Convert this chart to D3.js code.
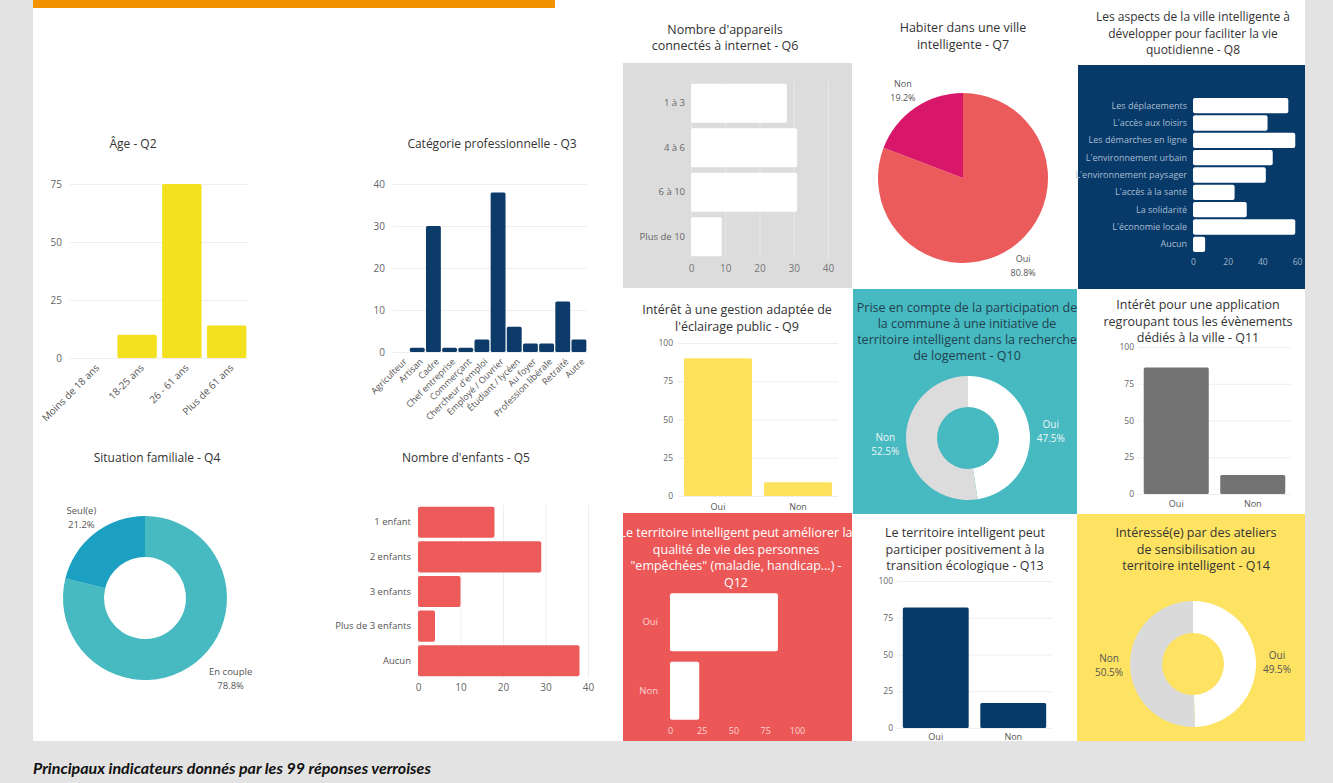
<!DOCTYPE html>
<html>
<head>
<meta charset="utf-8">
<script src="https://cdn.jsdelivr.net/npm/d3@7"></script>
<style>
body { margin: 0; background: #e3e3e3; }
svg text { font-family: "Open Sans", sans-serif; }
</style>
</head>
<body>
<svg id="chart" width="1333" height="783"></svg>
<script>
// ---- data ----
var q2Labels = ["Moins de 18 ans", "18-25 ans", "26 - 61 ans", "Plus de 61 ans"];
var q2Values = [0, 10, 75, 14];
var q2Ticks = [0, 25, 50, 75];

var q3Labels = ["Agriculteur", "Artisan", "Cadre", "Chef entreprise", "Commerçant", "Chercheur d'emploi",
    "Employé / Ouvrier", "Étudiant / lycéen", "Au foyer", "Profession libérale", "Retraité", "Autre"];
var q3Values = [0, 1, 30, 1, 1, 3, 38, 6, 2, 2, 12, 3];
var q3Ticks = [0, 10, 20, 30, 40];

var q4Labels = ["En couple", "Seul(e)"];
var q4Values = [78.8, 21.2];

var q5Labels = ["1 enfant", "2 enfants", "3 enfants", "Plus de 3 enfants", "Aucun"];
var q5Values = [18, 29, 10, 4, 38];
var q5Ticks = [0, 10, 20, 30, 40];

var q6Labels = ["1 à 3", "4 à 6", "6 à 10", "Plus de 10"];
var q6Values = [28, 31, 31, 9];
var q6Ticks = [0, 10, 20, 30, 40];

var q7Labels = ["Oui", "Non"];
var q7Values = [80.8, 19.2];

var q8Labels = ["Les déplacements", "L'accès aux loisirs", "Les démarches en ligne", "L'environnement urbain",
    "L'environnement paysager", "L'accès à la santé", "La solidarité", "L'économie locale", "Aucun"];
var q8Values = [55, 43, 59, 46, 42, 24, 31, 59, 7];
var q8Ticks = [0, 20, 40, 60];

var yesNo = ["Oui", "Non"];
var pctTicks = [0, 25, 50, 75, 100];
var q9Values = [90, 9];
var q10Values = [47.5, 52.5];
var q11Values = [86, 13];
var q12Values = [85, 23];
var q13Values = [82, 17];
var q14Values = [49.5, 50.5];

var svg = d3.select("#chart");

// ---- background & panels ----
svg.append("rect").attr("x", 33).attr("y", 0).attr("width", 1272).attr("height", 741).attr("fill", "#fff");
svg.append("rect").attr("x", 33).attr("y", 0).attr("width", 522).attr("height", 8).attr("fill", "#f39200");

[[623, 63, 229, 225, "#dcdcdc"], [1078, 65, 227, 224, "#073a68"], [853, 289, 224, 225, "#46b9c1"],
 [623, 513, 229, 228, "#ec5858"], [1077, 514, 228, 227, "#fee262"]].forEach(function (p) {
    svg.append("rect").attr("x", p[0]).attr("y", p[1]).attr("width", p[2]).attr("height", p[3]).attr("fill", p[4]);
});

// ---- helpers ----
function title(lines, cx, y, o) {
    o = o || {};
    var t = svg.append("text").attr("text-anchor", "middle")
        .attr("font-size", o.fs || 12.5).attr("fill", o.color || "#333");
    lines.forEach(function (l, i) {
        t.append("tspan").attr("x", cx).attr("y", y + i * (o.lh || 16.5)).text(l);
    });
}

function vbar(o) {
    var g = svg.append("g");
    var y = d3.scaleLinear().domain([0, o.max]).range([o.yZero, o.yTop]);
    var x = d3.scaleBand().domain(o.labels).range([o.x0, o.x1])
        .paddingInner(o.pad).paddingOuter(o.pad / 2);

    var ya = g.append("g").attr("transform", "translate(" + o.x0 + ",0)")
        .call(d3.axisLeft(y).tickValues(o.ticks).tickSize(-(o.x1 - o.x0)).tickPadding(o.tickPad || 6));
    ya.select(".domain").remove();
    ya.attr("font-size", o.tickFs || 10);
    ya.selectAll("line").attr("stroke", o.grid || "#eeeeee");
    ya.selectAll("text").attr("fill", o.tickColor || "#666");

    g.selectAll("rect.bar").data(o.values).enter().append("rect")
        .attr("class", "bar")
        .attr("x", function (d, i) { return x(o.labels[i]); })
        .attr("width", x.bandwidth())
        .attr("y", function (d) { return y(d); })
        .attr("height", function (d) { return o.yZero - y(d); })
        .attr("rx", 1.5)
        .attr("fill", o.color);

    var xa = g.append("g").attr("transform", "translate(0," + o.yZero + ")")
        .call(d3.axisBottom(x).tickSize(0).tickPadding(o.xPad || 7));
    xa.select(".domain").remove();
    xa.attr("font-size", o.xFs || 9);
    xa.selectAll("text").attr("fill", o.labelColor || "#555");
    if (o.rotate) {
        xa.selectAll("text").attr("y", 0).attr("dy", "0.35em").attr("text-anchor", "end")
            .attr("transform", "translate(" + o.rotate[0] + "," + o.rotate[1] + ") rotate(-45)");
    }
}

function hbar(o) {
    var g = svg.append("g");
    var x = d3.scaleLinear().domain([0, o.max]).range([o.xZero, o.xMax]);
    var y = d3.scaleBand().domain(o.labels).range([o.y0, o.y1])
        .paddingInner(o.pad).paddingOuter(o.pad / 2);

    var xa = g.append("g").attr("transform", "translate(0," + o.y1 + ")")
        .call(d3.axisBottom(x).tickValues(o.ticks).tickSize(-(o.y1 - o.y0)).tickPadding(o.tickPad || 6));
    xa.select(".domain").remove();
    xa.attr("font-size", o.tickFs || 10);
    xa.selectAll("line").attr("stroke", o.grid || "none");
    xa.selectAll("text").attr("fill", o.tickColor || "#666");

    g.selectAll("rect.bar").data(o.values).enter().append("rect")
        .attr("class", "bar")
        .attr("x", o.xZero)
        .attr("width", function (d) { return x(d) - o.xZero; })
        .attr("y", function (d, i) { return y(o.labels[i]); })
        .attr("height", y.bandwidth())
        .attr("rx", 2)
        .attr("fill", o.color);

    var ya = g.append("g").attr("transform", "translate(" + o.xZero + ",0)")
        .call(d3.axisLeft(y).tickSize(0).tickPadding(o.labelPad || 6));
    ya.select(".domain").remove();
    ya.attr("font-size", o.labelFs || 10);
    ya.selectAll("text").attr("fill", o.labelColor || "#555");
}

function pie(o) {
    var g = svg.append("g").attr("transform", "translate(" + o.cx + "," + o.cy + ")");
    var arcs = d3.pie().sort(null)(o.values);
    var arc = d3.arc().innerRadius(o.ri || 0).outerRadius(o.r);
    g.selectAll("path").data(arcs).enter().append("path")
        .attr("d", arc)
        .attr("fill", function (d, i) { return o.colors[i]; });
    arcs.forEach(function (a, i) {
        var m = (a.startAngle + a.endAngle) / 2, R = o.r + 21;
        var lx = Math.sin(m) * R + ((o.nudge && o.nudge[i]) || 0), ly = -Math.cos(m) * R;
        var t = g.append("text").attr("text-anchor", "middle")
            .attr("font-size", o.fs || 9.5).attr("fill", o.labelColor || "#555");
        t.append("tspan").attr("x", lx).attr("y", ly - 3.5).text(o.labels[i]);
        t.append("tspan").attr("x", lx).attr("y", ly + 10.5).text(d3.format(".1f")(o.values[i]) + "%");
    });
}

// ---- Q2 ----
title(["Âge - Q2"], 133, 148, { fs: 12 });
vbar({ labels: q2Labels, values: q2Values, ticks: q2Ticks, max: 75,
    x0: 70, x1: 249, yZero: 358, yTop: 184, pad: 0.12, color: "#f3e11f",
    tickFs: 10, xFs: 10, rotate: [5, 8], tickPad: 8 });

// ---- Q3 ----
title(["Catégorie professionnelle - Q3"], 492, 148, { fs: 12 });
vbar({ labels: q3Labels, values: q3Values, ticks: q3Ticks, max: 40,
    x0: 393, x1: 587, yZero: 352, yTop: 184, pad: 0.08, color: "#0d3b69",
    tickFs: 10, xFs: 9, rotate: [4, 8], tickPad: 8 });

// ---- Q4 ----
title(["Situation familiale - Q4"], 157, 462, { fs: 12 });
pie({ labels: q4Labels, values: q4Values, cx: 145, cy: 598, r: 82, ri: 41,
    colors: ["#46b9c1", "#1ba0c2"], nudge: [22, 0] });

// ---- Q5 ----
title(["Nombre d'enfants - Q5"], 466, 462, { fs: 12 });
hbar({ labels: q5Labels, values: q5Values, ticks: q5Ticks, max: 40,
    xZero: 418, xMax: 588, y0: 505, y1: 678, pad: 0.1, color: "#ec5a5a",
    grid: "#eeeeee", tickPad: 6, labelPad: 7, labelFs: 9.5 });

// ---- Q6 ----
title(["Nombre d'appareils", "connectés à internet - Q6"], 725, 34, { lh: 15.5 });
hbar({ labels: q6Labels, values: q6Values, ticks: q6Ticks, max: 40,
    xZero: 691, xMax: 828, y0: 81, y1: 259, pad: 0.12, color: "#fff",
    grid: "#e8e8e8", tickColor: "#777", labelColor: "#666", labelFs: 9.5, tickPad: 6 });

// ---- Q7 ----
title(["Habiter dans une ville", "intelligente - Q7"], 963, 32);
pie({ labels: q7Labels, values: q7Values, cx: 963, cy: 178, r: 85,
    colors: ["#ec5b5b", "#d8176a"], fs: 9 });

// ---- Q8 ----
title(["Les aspects de la ville intelligente  à", "développer pour faciliter la vie", "quotidienne - Q8"],
    1193, 21, { fs: 12 });
hbar({ labels: q8Labels, values: q8Values, ticks: q8Ticks, max: 60,
    xZero: 1193, xMax: 1297, y0: 97, y1: 253, pad: 0.12, color: "#fff",
    tickColor: "#9fb4cc", labelColor: "#a9bcd3", labelFs: 9, tickFs: 8.5, tickPad: 6 });

// ---- Q9 ----
title(["Intérêt à une gestion adaptée de", "l'éclairage public - Q9"], 737, 314);
vbar({ labels: yesNo, values: q9Values, ticks: pctTicks, max: 100,
    x0: 678, x1: 838, yZero: 496, yTop: 343, pad: 0.15, color: "#fde25e",
    tickFs: 8.5, xFs: 9, tickPad: 5, xPad: 7.5 });

// ---- Q10 ----
title(["Prise en compte de la participation de", "la commune à une initiative de",
    "territoire intelligent dans la recherche", "de logement - Q10"], 967, 312, { color: "#23424f", lh: 16 });
pie({ labels: yesNo, values: q10Values, cx: 968, cy: 438, r: 62, ri: 31,
    colors: ["#ffffff", "#dcdcdc"], fs: 10, labelColor: "#eef6f7" });

// ---- Q11 ----
title(["Intérêt pour une application", "regroupant tous les évènements", "dédiés à la ville - Q11"], 1198, 309);
vbar({ labels: yesNo, values: q11Values, ticks: pctTicks, max: 100,
    x0: 1138, x1: 1291, yZero: 494, yTop: 347, pad: 0.15, color: "#737373",
    tickFs: 8.5, xFs: 9, tickPad: 4, xPad: 6.5 });

// ---- Q12 ----
title(["Le territoire intelligent peut améliorer la", "qualité de vie des personnes",
    "\"empêchées\" (maladie, handicap...) -", "Q12"], 736, 537, { color: "#fff" });
hbar({ labels: yesNo, values: q12Values, ticks: pctTicks, max: 100,
    xZero: 670, xMax: 797, y0: 588, y1: 725, pad: 0.15, color: "#fff",
    tickColor: "#fbd3d3", labelColor: "#fbd3d3", labelFs: 9.5, tickFs: 9, labelPad: 12, tickPad: 3 });

// ---- Q13 ----
title(["Le territoire intelligent peut", "participer positivement à la", "transition écologique - Q13"], 965, 537);
vbar({ labels: yesNo, values: q13Values, ticks: pctTicks, max: 100,
    x0: 897, x1: 1052, yZero: 728, yTop: 581, pad: 0.15, color: "#073a68",
    tickFs: 8.5, xFs: 9, tickPad: 4, xPad: 6 });

// ---- Q14 ----
title(["Intéressé(e) par des ateliers", "de sensibilisation au", "territoire intelligent - Q14"], 1196, 537);
pie({ labels: yesNo, values: q14Values, cx: 1193, cy: 664, r: 63, ri: 31,
    colors: ["#ffffff", "#dadada"], fs: 10, labelColor: "#555" });

// ---- caption ----
svg.append("text").attr("x", 33).attr("y", 774)
    .style("font-family", "Lato, sans-serif").style("font-style", "italic").style("font-weight", "bold")
    .attr("font-size", 16).attr("fill", "#111")
    .text("Principaux indicateurs donnés par les 99 réponses verroises");
</script>
</body>
</html>
